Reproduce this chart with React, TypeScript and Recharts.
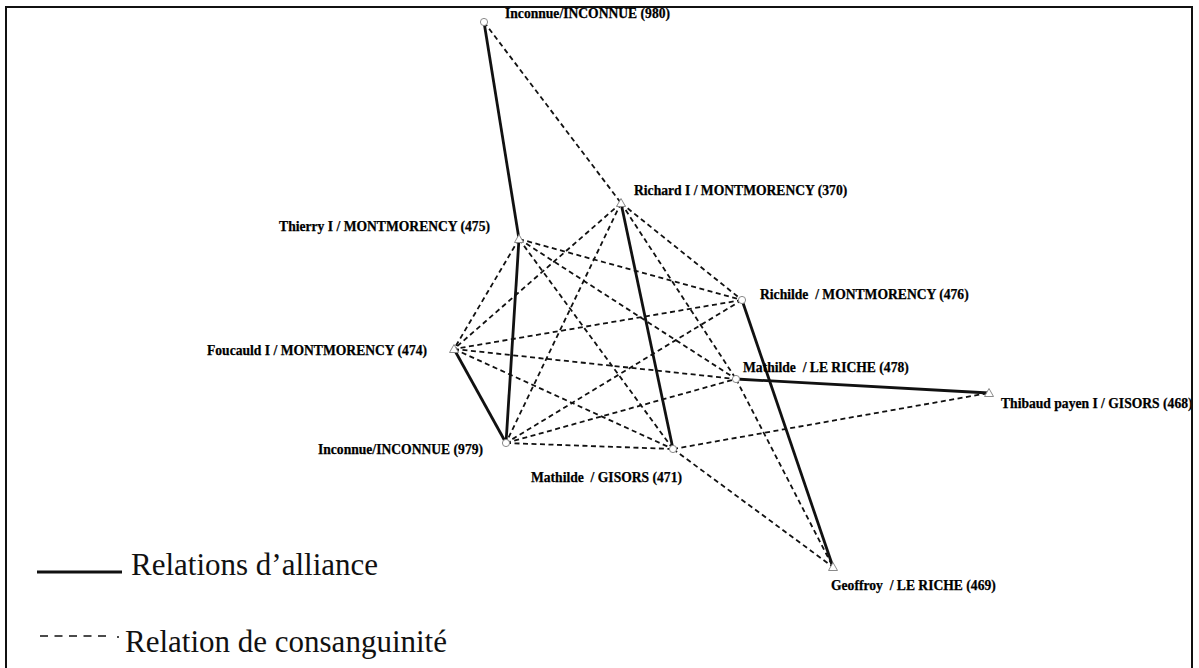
import { ScatterChart, Scatter, XAxis, YAxis, ReferenceLine } from 'recharts';

const W = 1199;
const H = 668;

// people in the network, and where each sits in the drawing
const nodeIds = ['980', '475', '370', '476', '474', '478', '468', '979', '471', '469'];
const nodeNames = [
  'Inconnue/INCONNUE (980)',
  'Thierry I / MONTMORENCY (475)',
  'Richard I / MONTMORENCY (370)',
  'Richilde  / MONTMORENCY (476)',
  'Foucauld I / MONTMORENCY (474)',
  'Mathilde  / LE RICHE (478)',
  'Thibaud payen I / GISORS (468)',
  'Inconnue/INCONNUE (979)',
  'Mathilde  / GISORS (471)',
  'Geoffroy  / LE RICHE (469)',
];
const nodeX = [484, 519, 621, 742, 454, 736, 989, 506, 673, 833];
const nodeY = [22, 239, 203, 300, 349, 379, 393, 443, 449, 567];
const nodeKind = ['circle', 'triangle', 'triangle', 'circle', 'triangle', 'circle', 'triangle', 'circle', 'circle', 'triangle'];

// relations
const allianceLinks: [string, string][] = [
  ['980', '475'],
  ['475', '979'],
  ['474', '979'],
  ['370', '471'],
  ['476', '469'],
  ['478', '468'],
];
const kinshipLinks: [string, string][] = [
  ['980', '370'],
  ['475', '474'],
  ['475', '476'],
  ['475', '478'],
  ['475', '471'],
  ['370', '474'],
  ['370', '979'],
  ['370', '476'],
  ['370', '478'],
  ['476', '474'],
  ['476', '979'],
  ['474', '478'],
  ['474', '471'],
  ['979', '478'],
  ['979', '471'],
  ['471', '468'],
  ['471', '469'],
  ['478', '469'],
];

// where each label goes relative to its node
const labelPlace: Record<string, { dx: number; dy: number; anchor: 'start' | 'end' }> = {
  '980': { dx: 21, dy: -9, anchor: 'start' },
  '475': { dx: -29, dy: -13, anchor: 'end' },
  '370': { dx: 13, dy: -13, anchor: 'start' },
  '476': { dx: 18, dy: -6, anchor: 'start' },
  '474': { dx: -27, dy: 1, anchor: 'end' },
  '478': { dx: 7, dy: -12, anchor: 'start' },
  '468': { dx: 12, dy: 10, anchor: 'start' },
  '979': { dx: -23, dy: 6, anchor: 'end' },
  '471': { dx: 9, dy: 28, anchor: 'end' },
  '469': { dx: -2, dy: 18, anchor: 'start' },
};

const nodes = nodeIds.map((id, i) => ({
  id,
  name: nodeNames[i],
  x: nodeX[i],
  y: nodeY[i],
  kind: nodeKind[i],
}));

const pos = (id: string) => {
  const n = nodes.find((d) => d.id === id)!;
  return { x: n.x, y: n.y };
};

const serif = '"Liberation Serif", "Times New Roman", serif';

function NodeShape(props: any) {
  const { cx, cy, payload } = props;
  const lp = labelPlace[payload.id];
  return (
    <g>
      {payload.kind === 'circle' ? (
        <circle cx={cx} cy={cy} r={3.6} fill="#fff" stroke="#8a8a8a" strokeWidth={1} />
      ) : (
        <polygon
          points={`${cx},${cy - 4.5} ${cx - 4.5},${cy + 3.5} ${cx + 4.5},${cy + 3.5}`}
          fill="#fff"
          stroke="#8a8a8a"
          strokeWidth={1}
        />
      )}
      <text
        x={cx + lp.dx}
        y={cy + lp.dy}
        textAnchor={lp.anchor}
        dominantBaseline="central"
        fontFamily={serif}
        fontWeight="bold"
        fontSize={13.6}
        fill="#000"
        stroke="#000"
        strokeWidth={0.25}
        style={{ whiteSpace: 'pre' }}
      >
        {payload.name}
      </text>
    </g>
  );
}

export default function App() {
  return (
    <div style={{ position: 'absolute', left: 0, top: 0, width: W, height: H, background: '#fff', overflow: 'hidden' }}>
      <ScatterChart width={W} height={H} margin={{ top: 0, right: 0, bottom: 0, left: 0 }}>
        <XAxis type="number" dataKey="x" domain={[0, W]} hide />
        <YAxis type="number" dataKey="y" domain={[0, H]} reversed hide />
        {kinshipLinks.map(([a, b], i) => (
          <ReferenceLine
            key={'k' + i}
            segment={[pos(a), pos(b)]}
            stroke="#111"
            strokeWidth={1.8}
            strokeDasharray="5 3.5"
          />
        ))}
        {allianceLinks.map(([a, b], i) => (
          <ReferenceLine key={'a' + i} segment={[pos(a), pos(b)]} stroke="#111" strokeWidth={2.8} />
        ))}
        <Scatter data={nodes} shape={NodeShape} isAnimationActive={false} />
      </ScatterChart>

      {/* frame */}
      <div
        style={{
          position: 'absolute',
          left: 5,
          top: 6,
          width: 1188,
          height: 700,
          border: '2.5px solid #111',
          boxSizing: 'border-box',
          pointerEvents: 'none',
        }}
      />

      {/* legend */}
      <svg style={{ position: 'absolute', left: 0, top: 540 }} width={480} height={128}>
        <line x1={37} y1={32} x2={122} y2={32} stroke="#111" strokeWidth={3} />
        <text x={131} y={35} fontFamily={serif} fontSize={31} fill="#111">
          Relations d’alliance
        </text>
        <line x1={40} y1={96} x2={110} y2={96} stroke="#111" strokeWidth={1.6} strokeDasharray="8 6.5" />
        <circle cx={118} cy={97} r={1} fill="#111" />
        <text x={125} y={112} fontFamily={serif} fontSize={31} fill="#111">
          Relation de consanguinité
        </text>
      </svg>
    </div>
  );
}
